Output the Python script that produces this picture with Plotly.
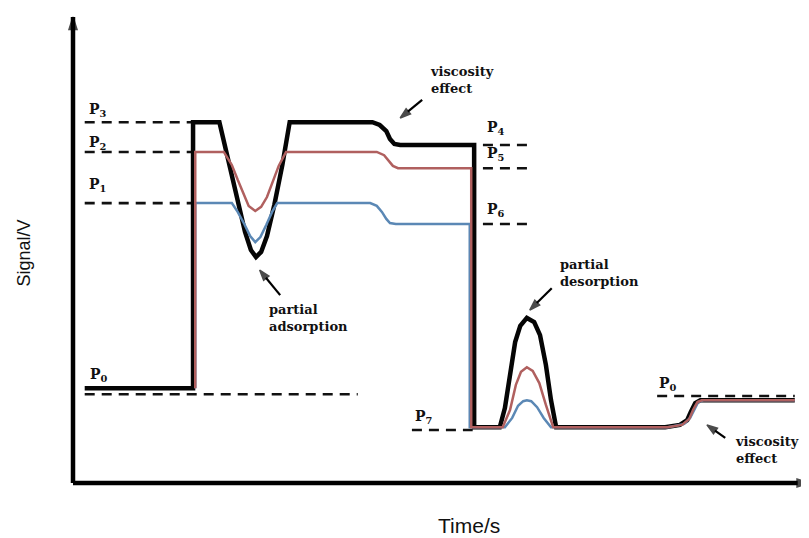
import plotly.graph_objects as go

# ---------------- data (time in arbitrary s, signal in V) ----------------
black_t = [1.6, 16.4, 16.4, 20.0, 21.2, 22.4, 23.5, 24.3, 25.0, 25.7, 26.5, 27.5, 28.6, 29.6,
           40.9, 41.9, 42.8, 43.3, 43.9, 44.7, 54.8, 54.8, 58.3, 59.0, 59.7, 60.4, 61.1, 62.0,
           63.0, 63.8, 64.6, 65.3, 66.0, 80.9, 82.9, 83.9, 84.4, 85.0, 85.7, 98.6]
black_v = [2.04, 2.04, 7.76, 7.76, 6.95, 6.09, 5.40, 5.01, 4.86, 4.97, 5.31, 5.98, 6.84, 7.76,
           7.76, 7.70, 7.57, 7.40, 7.29, 7.27, 7.27, 1.20, 1.20, 1.61, 2.39, 3.03, 3.38, 3.55,
           3.46, 3.18, 2.54, 1.78, 1.20, 1.20, 1.25, 1.35, 1.53, 1.72, 1.78, 1.78]

red_t = [16.7, 16.7, 20.6, 21.7, 22.5, 23.4, 24.0, 24.9, 25.7, 26.5, 27.3, 28.1, 29.1,
         41.5, 42.5, 43.2, 43.7, 44.4, 54.4, 54.4, 58.7, 59.7, 60.5, 61.2, 62.0, 62.8, 63.7,
         64.6, 65.6, 81.2, 83.2, 84.2, 84.7, 85.3, 85.9, 98.6]
red_v = [2.04, 7.12, 7.12, 6.84, 6.52, 6.17, 5.96, 5.85, 5.94, 6.15, 6.47, 6.82, 7.12,
         7.12, 7.05, 6.92, 6.82, 6.77, 6.77, 1.20, 1.20, 1.57, 2.11, 2.39, 2.49, 2.41, 2.15,
         1.68, 1.20, 1.20, 1.25, 1.38, 1.57, 1.74, 1.78, 1.78]

blue_t = [16.7, 16.7, 21.7, 22.5, 23.4, 24.2, 24.9, 25.6, 26.4, 27.2, 27.9, 40.6, 41.5,
          42.2, 42.8, 43.3, 44.1, 54.2, 54.2, 59.0, 60.0, 60.8, 61.5, 62.0, 62.6, 63.4, 64.3,
          65.3, 81.3, 83.5, 84.3, 84.8, 85.4, 86.1, 98.6]
blue_v = [2.04, 6.02, 6.02, 5.83, 5.57, 5.31, 5.18, 5.29, 5.55, 5.83, 6.02, 6.02, 5.96,
          5.83, 5.68, 5.59, 5.57, 5.57, 1.20, 1.20, 1.40, 1.66, 1.76, 1.78, 1.76, 1.63, 1.40,
          1.20, 1.20, 1.27, 1.40, 1.57, 1.74, 1.78, 1.78]

# reference levels (dashed)
level_names = ["P<sub>3</sub>", "P<sub>2</sub>", "P<sub>1</sub>", "P<sub>0</sub>",
               "P<sub>4</sub>", "P<sub>5</sub>", "P<sub>6</sub>", "P<sub>7</sub>", "P<sub>0</sub>"]
level_values = [7.76, 7.12, 6.02, 1.91, 7.27, 6.77, 5.57, 1.14, 1.87]
level_t_start = [1.6, 1.6, 1.6, 1.6, 56.0, 56.0, 56.0, 46.3, 79.8]
level_t_end = [16.3, 16.3, 16.3, 38.9, 62.4, 62.4, 62.4, 54.6, 98.6]

# label positions for level names
label_t = [1.9, 1.9, 1.9, 2.0, 56.3, 56.3, 56.3, 46.4, 79.8]
label_v = [8.02, 7.31, 6.41, 2.32, 7.63, 7.08, 5.87, 1.42, 2.13]

# remarks: text position, arrow tail and arrow head
note_texts = ["viscosity<br>effect", "partial<br>adsorption", "partial<br>desorption",
              "viscosity<br>effect"]
note_t = [48.5, 26.5, 66.3, 90.2]
note_v = [8.67, 3.55, 4.52, 0.71]
arrow_tail_t = [47.7, 28.3, 65.4, 89.1]
arrow_tail_v = [8.24, 4.04, 4.19, 0.97]
arrow_head_t = [44.7, 25.5, 62.4, 86.6]
arrow_head_v = [7.85, 4.58, 3.72, 1.25]

# axis extents (origin and arrow tips)
axis_t_end = 100.6
axis_v_end = 10.02

# ---------------- figure ----------------
fig = go.Figure()

# axes drawn as arrows
fig.add_trace(go.Scatter(x=[0, 0], y=[0, axis_v_end], mode="lines+markers",
                         line=dict(color="#000000", width=4.5),
                         marker=dict(symbol="arrow", size=[0, 13], angleref="previous",
                                     color="#000000", line=dict(width=1.5, color="#000000")),
                         showlegend=False, hoverinfo="skip"))
fig.add_trace(go.Scatter(x=[0, axis_t_end], y=[0, 0], mode="lines+markers",
                         line=dict(color="#000000", width=4.5),
                         marker=dict(symbol="arrow", size=[0, 13], angleref="previous",
                                     color="#000000", line=dict(width=1.5, color="#000000")),
                         showlegend=False, hoverinfo="skip"))

for name, v, t0, t1 in zip(level_names, level_values, level_t_start, level_t_end):
    fig.add_trace(go.Scatter(x=[t0, t1], y=[v, v], mode="lines",
                             line=dict(color="#111111", width=2.6, dash="10px,7px"),
                             showlegend=False, hoverinfo="skip"))

fig.add_trace(go.Scatter(x=black_t, y=black_v, mode="lines",
                         line=dict(color="#050505", width=4.5), showlegend=False))
fig.add_trace(go.Scatter(x=blue_t, y=blue_v, mode="lines",
                         line=dict(color="#5b88b5", width=2.5), showlegend=False))
fig.add_trace(go.Scatter(x=red_t, y=red_v, mode="lines",
                         line=dict(color="#b0605f", width=2.5), showlegend=False))

# remark arrows
for tt, tv, ht, hv in zip(arrow_tail_t, arrow_tail_v, arrow_head_t, arrow_head_v):
    fig.add_trace(go.Scatter(x=[tt, ht], y=[tv, hv], mode="lines+markers",
                             line=dict(color="#000000", width=2.2),
                             marker=dict(symbol="arrow", size=[0, 11], angleref="previous",
                                         color="#000000", line=dict(width=1.5, color="#000000")),
                             showlegend=False, hoverinfo="skip"))

serif = dict(family="DejaVu Serif", size=14, color="#111111")
for name, t, v in zip(level_names, label_t, label_v):
    fig.add_annotation(x=t, y=v, text="<b>" + name + "</b>", showarrow=False,
                       xanchor="left", yanchor="middle", font=serif)

note_font = dict(family="DejaVu Serif", size=13, color="#111111")
for txt, t, v in zip(note_texts, note_t, note_v):
    fig.add_annotation(x=t, y=v, text="<b>" + txt + "</b>", showarrow=False,
                       xanchor="left", yanchor="middle", align="left", font=note_font)

fig.add_annotation(x=0.5395, y=-0.0594, xref="paper", yref="paper", text="Time/s",
                   showarrow=False, xanchor="center", yanchor="middle",
                   font=dict(family="Liberation Sans", size=21, color="#111111"))

fig.update_layout(
    width=809, height=538,
    margin=dict(l=58, r=4, t=1, b=49, autoexpand=False),
    paper_bgcolor="white", plot_bgcolor="white",
    xaxis=dict(range=[-0.956, 101.09], showgrid=False, zeroline=False, showline=False,
               showticklabels=False, ticks="", automargin=False),
    yaxis=dict(range=[-0.301, 10.194], showgrid=False, zeroline=False, showline=False,
               showticklabels=False, ticks="", automargin=False,
               title=dict(text="Signal/V", standoff=29,
                          font=dict(family="Liberation Sans", size=18, color="#111111"))),
)

fig.write_html("out.html")
